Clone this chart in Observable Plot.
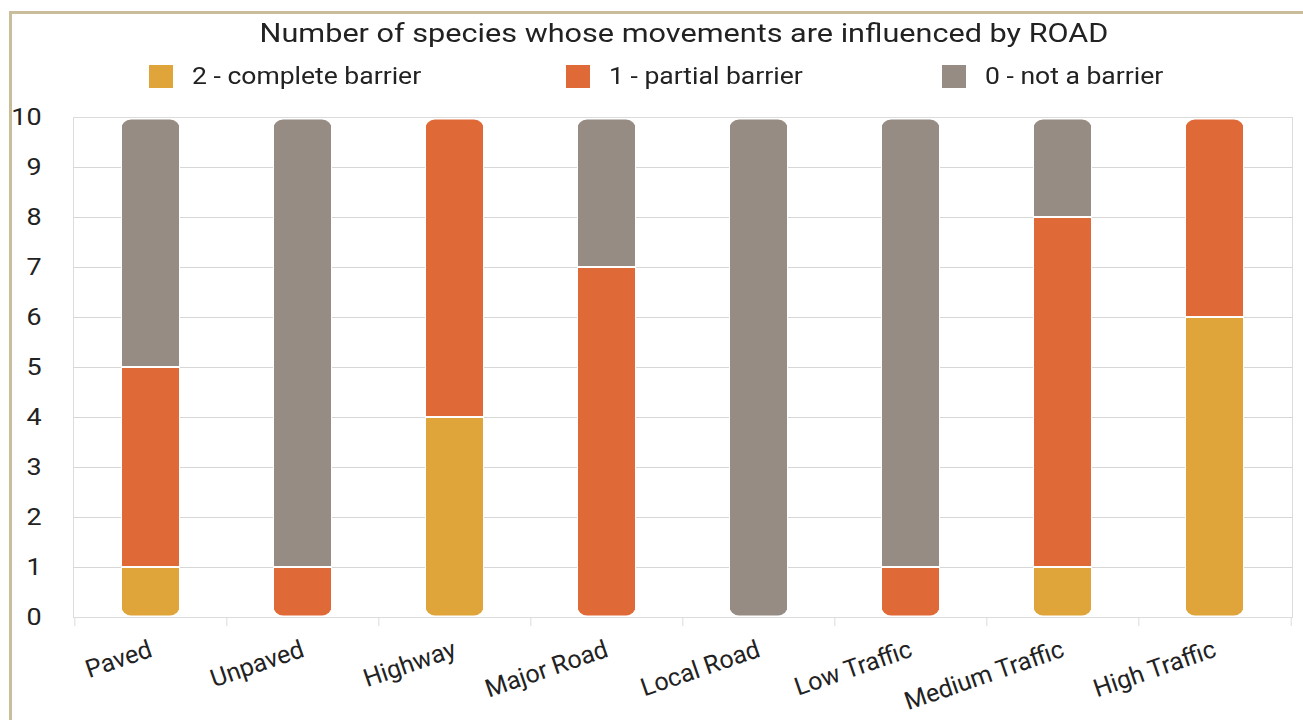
<!DOCTYPE html>
<html><head><meta charset="utf-8">
<script src="https://cdn.jsdelivr.net/npm/d3@7"></script>
<script src="https://cdn.jsdelivr.net/npm/@observablehq/plot@0.6"></script>
<style>
body{margin:0;width:1303px;height:720px;overflow:hidden;background:#fff;font-family:Roboto,sans-serif;position:relative}
#frame{position:absolute;left:9px;top:11px;width:1310px;height:760px;border:3px solid #c9bd9c;box-sizing:border-box}
#title{position:absolute;left:0;width:1368px;top:19px;text-align:center;font-size:25px;color:#222;line-height:30px;transform:scaleX(1.225);transform-origin:684px 0}
#legend{position:absolute;left:0;top:0;width:1303px;height:100px;font-size:24px;color:#222}
#legend .sw{position:absolute;top:65px;width:24px;height:23px}
#legend .tx{position:absolute;top:61px;line-height:30px;white-space:nowrap;transform:scaleX(1.105);transform-origin:0 0}
#chart{position:absolute;left:0;top:95px}
</style></head>
<body>
<div id="frame"></div>
<div id="title"></div>
<div id="legend"></div>
<div id="chart"></div>
<script>
const titleText = "Number of species whose movements are influenced by ROAD";
const categories = ["Paved","Unpaved","Highway","Major Road","Local Road","Low Traffic","Medium Traffic","High Traffic"];
const levels = ["2 - complete barrier","1 - partial barrier","0 - not a barrier"];
const colors = ["#dfa43a","#df6a37","#978c84"];
const completeBarrier = [1,0,4,0,0,0,1,6];
const partialBarrier  = [4,1,6,7,0,1,7,4];
const notABarrier     = [5,9,0,3,10,9,2,0];
const yTicks = [0,1,2,3,4,5,6,7,8,9,10];

document.getElementById("title").textContent = titleText;
const legend = document.getElementById("legend");
const legendSwatchX = [149, 566, 942];
levels.forEach((l,i)=>{
  const sw = document.createElement("div"); sw.className="sw";
  sw.style.background = colors[i]; sw.style.left = legendSwatchX[i] + "px";
  const tx = document.createElement("div"); tx.className="tx";
  tx.textContent = l; tx.style.left = (legendSwatchX[i] + 43) + "px";
  legend.append(sw, tx);
});

const series = [completeBarrier, partialBarrier, notABarrier];
const rows = [];
categories.forEach((c,i)=>{
  series.forEach((s,j)=>{ rows.push({category:c, level:levels[j], value:s[i]}); });
});
const totals = categories.map((c,i)=>({category:c, total: series.reduce((a,s)=>a+s[i],0)}));

const W = 1303, H = 625, mL = 73, mR = 11;
const step = (W - mL - mR) / categories.length;

const chart = Plot.plot({
  width: W, height: H,
  marginLeft: mL, marginRight: mR, marginTop: 22, marginBottom: 103,
  style: {fontFamily: "Roboto, sans-serif", background: "transparent"},
  x: {domain: categories, paddingInner: 0.61, paddingOuter: 0.305, label: null},
  y: {domain: [0,10], label: null},
  color: {domain: levels, range: colors},
  marks: [
    Plot.gridY(yTicks, {stroke: "#d6d6d6", strokeOpacity: 1}),
    Plot.frame({stroke: "#dcdcdc"}),
    Plot.axisY({ticks: yTicks, tickSize: 0, tickPadding: 32, fontSize: 23, fill: "#222"}),
    Plot.axisX({tickSize: 0, tickRotate: -19, tickPadding: 31, fontSize: 25, fill: "#222"}),
    Plot.axisX({tickSize: 9, tickFormat: () => "", dx: -step/2, stroke: "#dcdcdc"}),
    Plot.axisX({ticks: [categories[categories.length-1]], tickSize: 9, tickFormat: () => "", dx: step/2, stroke: "#dcdcdc"}),
    Plot.barY(totals, {x: "category", y: "total", rx: 10, insetTop: 2.5, insetBottom: 1.5, fill: "white"}),
    Plot.barY(rows, {x: "category", y: "value", fill: "level", stroke: "white", strokeWidth: 2})
  ]
});
document.getElementById("chart").append(chart);

const svg = d3.select(chart);

// horizontally stretch the y tick labels a little, as in the reference
svg.selectAll('g[aria-label="y-axis tick label"] text').each(function(){
  const t = this.getAttribute("transform") || "";
  this.setAttribute("transform", t + " scale(1.17,1)");
});

// mask the stacked segments with the rounded full-stack shapes (anti-aliased corners)
const barGroups = svg.selectAll('g[aria-label="bar"]').nodes();
const maskG = barGroups[0], segG = barGroups[1];
const defs = svg.insert("defs", ":first-child");
const mask = defs.append("mask").attr("id", "stackMask")
  .attr("maskUnits", "userSpaceOnUse")
  .attr("x", 0).attr("y", 0).attr("width", W).attr("height", H);
const mg = mask.append("g");
const tr = maskG.getAttribute("transform");
if (tr) mg.attr("transform", tr);
d3.select(maskG).selectAll("rect").each(function(){
  const r = this.cloneNode(true);
  r.setAttribute("fill", "white");
  mg.node().appendChild(r);
});
segG.setAttribute("mask","url(#stackMask)");
maskG.remove();
</script>
</body></html>
